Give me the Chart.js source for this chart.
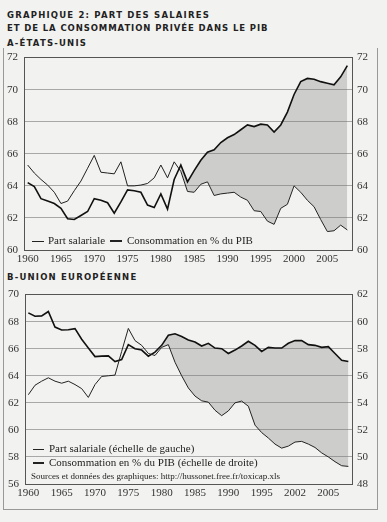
<!DOCTYPE html>
<html><head><meta charset="utf-8">
<script src="https://cdn.jsdelivr.net/npm/chart.js@4"></script>
<style>
body{margin:0;background:#f2f2f0;width:387px;height:522px;overflow:hidden;position:relative;font-family:"Liberation Serif",serif;}
.t{position:absolute;left:7px;font-family:"DejaVu Sans",sans-serif;font-weight:bold;font-size:8.5px;letter-spacing:1.2px;color:#222;white-space:nowrap;line-height:1}
.frame{position:absolute;left:3px;top:48px;width:373px;height:461px;border:1px solid #999;border-top:none;}
canvas{position:absolute;left:0}
.lg{position:absolute;font-size:11px;color:#222;white-space:nowrap;line-height:1}
.src{position:absolute;font-size:9px;color:#222;white-space:nowrap;line-height:1}
.d{position:absolute;height:0;border-top:1px solid #222}
</style></head><body>
<div class="frame"></div>
<div class="t" style="top:11px">GRAPHIQUE 2: PART DES SALAIRES</div>
<div class="t" style="top:24px;letter-spacing:0.9px">ET DE LA CONSOMMATION PRIVÉE DANS LE PIB</div>
<div class="t" style="top:39px">A-ÉTATS-UNIS</div>
<div class="t" style="top:273px">B-UNION EUROPÉENNE</div>
<canvas id="c1" width="387" height="228" style="top:45px"></canvas>
<canvas id="c2" width="387" height="222" style="top:282px"></canvas>

<div class="d" style="left:32px;top:241px;width:12px"></div>
<div class="lg" style="left:48px;top:235px">Part salariale</div>
<div class="d" style="left:110px;top:240px;width:12px;border-top-width:2px"></div>
<div class="lg" style="left:127px;top:235px">Consommation en % du PIB</div>

<div class="d" style="left:33px;top:449px;width:11px"></div>
<div class="lg" style="left:49px;top:443px">Part salariale (échelle de gauche)</div>
<div class="d" style="left:33px;top:462px;width:11px;border-top-width:2px"></div>
<div class="lg" style="left:49px;top:457px">Consommation en % du PIB (échelle de droite)</div>
<div class="src" style="left:31px;top:472px">Sources et données des graphiques: http://hussonet.free.fr/toxicap.xls</div>

<script>
const years = [1960,1961,1962,1963,1964,1965,1966,1967,1968,1969,1970,1971,1972,1973,1974,1975,1976,1977,1978,1979,1980,1981,1982,1983,1984,1985,1986,1987,1988,1989,1990,1991,1992,1993,1994,1995,1996,1997,1998,1999,2000,2001,2002,2003,2004,2005,2006,2007,2008];

// A - Etats-Unis
const usWage = [65.3,64.8,64.4,64.05,63.6,62.9,63.05,63.7,64.3,65.1,65.9,64.85,64.8,64.75,65.5,64.0,64.0,64.05,64.15,64.5,65.3,64.5,65.5,64.9,63.65,63.6,64.1,64.25,63.4,63.5,63.55,63.6,63.3,63.1,62.45,62.4,61.8,61.6,62.6,62.85,64.0,63.6,63.1,62.7,61.9,61.15,61.2,61.55,61.25];
const usCons = [64.2,63.95,63.2,63.05,62.9,62.6,61.95,61.9,62.15,62.4,63.2,63.1,62.95,62.3,63.0,63.75,63.7,63.6,62.8,62.65,63.5,62.55,64.4,65.3,64.25,64.95,65.6,66.1,66.25,66.7,67.0,67.2,67.5,67.8,67.7,67.85,67.8,67.35,67.8,68.6,69.7,70.5,70.7,70.65,70.5,70.4,70.3,70.8,71.5];

// B - Union européenne (salaires: échelle de gauche, consommation: échelle de droite)
const euWage = [62.6,63.3,63.6,63.85,63.6,63.45,63.6,63.35,63.05,62.4,63.35,63.95,64.0,64.05,65.8,67.5,66.6,66.25,65.65,65.5,66.1,66.3,65.0,64.0,63.1,62.5,62.15,62.05,61.45,61.05,61.4,62.0,62.13,61.75,60.35,59.8,59.4,58.95,58.65,58.8,59.1,59.15,58.95,58.7,58.3,58.0,57.65,57.35,57.3];
const euCons = [60.65,60.4,60.43,60.75,59.6,59.38,59.4,59.48,58.7,58.05,57.42,57.45,57.47,57.05,57.2,58.3,58.0,57.9,57.45,57.75,58.25,59.0,59.1,58.9,58.65,58.5,58.2,58.4,58.05,58.0,57.65,57.9,58.2,58.55,58.25,57.8,58.1,58.05,58.05,58.4,58.6,58.6,58.3,58.25,58.1,58.15,57.65,57.15,57.05];
const euShadeFrom = 1980;

const tickYears = [1960,1965,1970,1975,1980,1985,1990,1995,2000,2005];
const xLabelsUS = ['1960','1965','1970','1975','1980','1985','1990','1995','2000','2005'];
const xLabelsEU = ['1960','1965','1970','1975','1980','1985','1990','1995','2002','2005'];
const yTicksUS = [60,62,64,66,68,70,72];
const yTicksEUL = [56,58,60,62,64,66,68,70];
const yTicksEUR = [48,50,52,54,56,58,60,62];

const pts = arr => arr.map((v,i)=>({x:years[i], y:v}));
const ptsFrom = (arr, y0) => arr.map((v,i)=>({x:years[i], y: years[i] >= y0 ? v : null}));

const FONT = {family:'"Liberation Serif", serif', size:11};
const INK = '#222';
const SHADE = 'rgba(120,120,120,0.30)';

function xScale(labels, min, max, h){
  return {
    type:'linear', min, max,
    afterBuildTicks(s){ s.ticks = tickYears.map(v=>({value:v})); },
    afterFit(s){ s.height = h; },
    ticks:{ font:FONT, color:'#333', padding:3, maxRotation:0, autoSkip:false,
      callback:(v,i)=> labels[i] },
    grid:{ display:false, drawTicks:false },
    border:{ display:true, color:'#555', width:1 }
  };
}
function yScale(ticksArr, pos, w, grid){
  const min = ticksArr[0], max = ticksArr[ticksArr.length-1];
  return {
    type:'linear', position:pos, min, max,
    afterBuildTicks(s){ s.ticks = ticksArr.map(v=>({value:v})); },
    afterFit(s){ s.width = w; },
    ticks:{ font:FONT, color:'#333', padding: pos==='left'?6:5 },
    grid:{ display:grid, drawTicks:false, color: c => c.tick && c.tick.value===max ? '#555' : '#a8a8a8', lineWidth:1 },
    border:{ display:true, color:'#555', width:1 }
  };
}
const common = {
  responsive:false, animation:false, events:[],
  plugins:{ legend:{display:false}, tooltip:{enabled:false}, filler:{drawTime:'beforeDatasetsDraw'} },
  elements:{ point:{radius:0}, line:{tension:0} }
};

new Chart(document.getElementById('c1'), {
  type:'line',
  data:{ datasets:[
    { label:'Part salariale', data:pts(usWage), borderColor:INK, borderWidth:1, fill:false, yAxisID:'y' },
    { label:'Consommation en % du PIB', data:pts(usCons), borderColor:'#111', borderWidth:1.6, yAxisID:'y',
      fill:{ target:0, above:SHADE, below:'rgba(0,0,0,0)' } }
  ]},
  options:Object.assign({}, common, {
    layout:{ padding:{ top:12, left:0, right:0, bottom:0 } },
    scales:{
      x: xScale(xLabelsUS, 1959.45, 2008.7, 23),
      y: yScale(yTicksUS, 'left', 24, true),
      y1: yScale(yTicksUS, 'right', 35, false)
    }
  })
});

new Chart(document.getElementById('c2'), {
  type:'line',
  data:{ datasets:[
    { label:'Part salariale (échelle de gauche)', data:pts(euWage), borderColor:INK, borderWidth:1, fill:false, yAxisID:'y' },
    { label:'Consommation en % du PIB (échelle de droite)', data:pts(euCons), borderColor:'#111', borderWidth:1.6, fill:false, yAxisID:'y1' },
    { label:'_shadeTop', data:ptsFrom(euCons, euShadeFrom), borderWidth:0, borderColor:'rgba(0,0,0,0)', yAxisID:'y1',
      fill:{ target:3 }, backgroundColor:SHADE, spanGaps:false },
    { label:'_shadeBottom', data:ptsFrom(euWage, euShadeFrom), borderWidth:0, borderColor:'rgba(0,0,0,0)', yAxisID:'y', fill:false, spanGaps:false }
  ]},
  options:Object.assign({}, common, {
    layout:{ padding:{ top:10, left:0, right:0, bottom:0 } },
    scales:{
      x: xScale(xLabelsEU, 1959.5, 2008.55, 20),
      y: yScale(yTicksEUL, 'left', 25, true),
      y1: yScale(yTicksEUR, 'right', 35, false)
    }
  })
});
</script>
</body></html>
